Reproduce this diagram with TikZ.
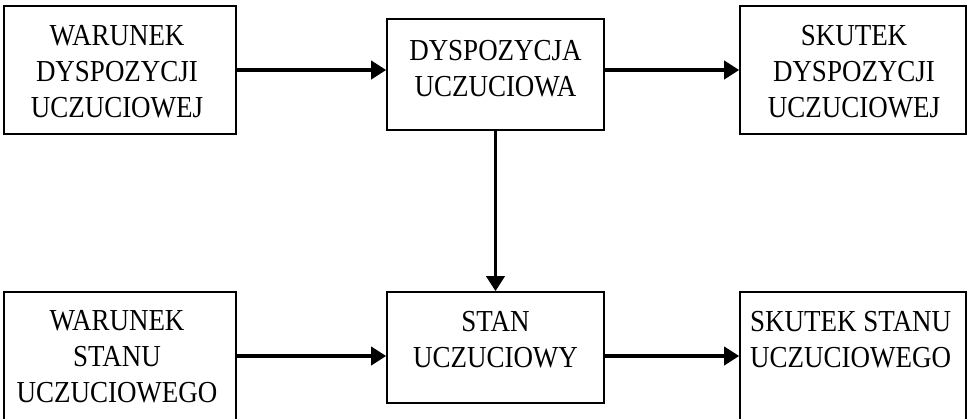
\documentclass[tikz,border=0pt]{standalone}
\usepackage{fontspec}
\setmainfont{Liberation Serif}[FakeStretch=0.885]
\usetikzlibrary{arrows.meta}
\begin{document}
\begin{tikzpicture}[x=1pt,y=-1pt,
  box/.style={draw=black,line width=1.6pt,rectangle,inner sep=0pt},
  lbl/.style={inner sep=0pt,font=\fontsize{30.5}{36}\selectfont,anchor=base},
  arr/.style={line width=3.6pt,-{Triangle[length=15pt,width=18pt]}}]
\useasboundingbox (0,0) rectangle (969,418);
\clip (0,0) rectangle (969,418);
\node[box,minimum width=232pt,minimum height=128pt] (b1) at (120,70) {};
\node[box,minimum width=217pt,minimum height=111pt] (b2) at (495.5,74.5) {};
\node[box,minimum width=226pt,minimum height=128pt] (b3) at (853,70) {};
\node[box,minimum width=232pt,minimum height=128pt] (b4) at (120,356) {};
\node[box,minimum width=217pt,minimum height=111pt] (b5) at (495.5,347.5) {};
\node[box,minimum width=226pt,minimum height=128pt] (b6) at (853,356) {};
\node[lbl,align=center] (t1) at (117,117) {WARUNEK\\DYSPOZYCJI\\UCZUCIOWEJ};
\node[lbl,align=center] (t2) at (495.5,96) {DYSPOZYCJA\\UCZUCIOWA};
\node[lbl,align=center] (t3) at (854,117) {SKUTEK\\DYSPOZYCJI\\UCZUCIOWEJ};
\node[lbl,align=center] (t4) at (117,402) {WARUNEK\\STANU\\UCZUCIOWEGO};
\node[lbl,align=center] (t5) at (495.5,367) {STAN\\UCZUCIOWY};
\node[lbl,align=left,anchor=base west] (t6) at (750,367) {SKUTEK STANU\\UCZUCIOWEGO};
\draw[arr] (b1.east) -- (b1.east -| b2.west);
\draw[arr] (b3.west -| b2.east) -- (b3.west);
\draw[arr] (b2.south) -- (b5.north);
\draw[arr] (b4.east) -- (b4.east -| b5.west);
\draw[arr] (b6.west -| b5.east) -- (b6.west);
\end{tikzpicture}
\end{document}
